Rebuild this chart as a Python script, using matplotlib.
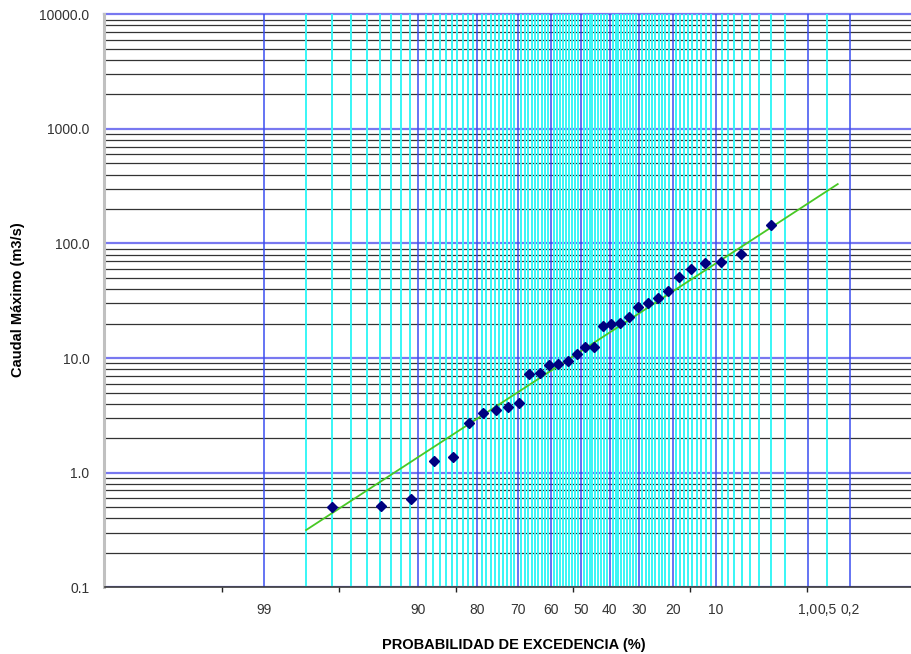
"""Curva de frecuencia de caudales máximos sobre papel de probabilidad log-Pearson III.

El eje X es lineal en el factor de frecuencia K (Wilson-Hilferty, asimetría CS) y
se rotula con la probabilidad de excedencia; el eje Y es logarítmico.
"""
from statistics import NormalDist

import matplotlib
matplotlib.use("Agg")
import matplotlib.pyplot as plt  # noqa: E402
import numpy as np  # noqa: E402

plt.rcParams["font.family"] = "Liberation Sans"

# caudales máximos anuales (m3/s), de mayor a menor, y su probabilidad de excedencia (%)
prob_exc = [3.0, 6.1, 9.1, 12.1, 15.2, 18.2, 21.2, 24.2, 27.3, 30.3, 33.3,
            36.4, 39.4, 42.4, 45.5, 48.5, 51.5, 54.5, 57.6, 60.6, 63.6, 66.7,
            69.7, 72.7, 75.8, 78.8, 81.8, 84.8, 87.9, 90.9, 93.9, 97.0]
caudal = [146.0, 80.9, 69.4, 67.2, 59.6, 51.0, 38.3, 33.6, 30.4, 27.8, 22.7,
          20.4, 19.85, 19.2, 12.5, 12.4, 10.9, 9.43, 8.94, 8.66, 7.46, 7.23,
          4.02, 3.72, 3.55, 3.34, 2.71, 1.36, 1.26, 0.59, 0.51, 0.50]

# recta de ajuste (extremos)
fit_prob = [98.0, 0.333]
fit_caudal = [0.316, 330.0]

# reticula del papel
prob_main = [99, 90, 80, 70, 60, 50, 40, 30, 20, 10, 1, 0.2]
prob_sec = [p for p in range(2, 99) if p % 10] + [0.5]
tick_prob = [99, 90, 80, 70, 60, 50, 40, 30, 20, 10, 1, 0.5, 0.2]
tick_text = ["99", "90", "80", "70", "60", "50", "40", "30", "20", "10",
             "1,0", "0,5", "0,2"]
y_ticks = [0.1, 1, 10, 100, 1000, 10000]
y_text = ["0.1", "1.0", "10.0", "100.0", "1000.0", "10000.0"]
y_minor = [m * 10.0 ** e for e in range(-1, 4) for m in range(2, 10)]

CS = -0.43          # asimetria usada para el papel
K_MIN, K_MAX = -4, 3

_nd = NormalDist()
_inv = np.vectorize(_nd.inv_cdf, otypes=[float])
_cdf = np.vectorize(_nd.cdf, otypes=[float])
_k = CS / 6


def p_to_k(p):
    """probabilidad de excedencia (%) -> factor de frecuencia K"""
    p = np.clip(np.asarray(p, dtype=float), 1e-9, 100 - 1e-9)
    z = _inv(1 - p / 100)
    return 2 / CS * ((1 + _k * z - _k ** 2) ** 3 - 1)


def k_to_p(kf):
    kf = np.asarray(kf, dtype=float)
    z = (np.cbrt(kf * CS / 2 + 1) - 1 + _k ** 2) / _k
    return 100 * (1 - _cdf(z))


fig = plt.figure(figsize=(9.12, 6.54), dpi=100)
ax = fig.add_axes([104.5 / 912, 1 - 587.3 / 654, 819.1 / 912, 573.0 / 654])

ax.set_yscale("log")
ax.set_xscale("function", functions=(p_to_k, k_to_p))

ax.vlines(prob_sec, 0.1, 10000, color="#38f6f6", lw=1.4, zorder=1.5)
ax.vlines(prob_main, 0.1, 10000, color="#3a4ef0", lw=1.1, zorder=1.6)
ax.plot(fit_prob, fit_caudal, color="#48c824", lw=1.3, zorder=3)
ax.plot(prob_exc, caudal, ls="none", marker="D", ms=4.8, color="#000080", zorder=4)

# K crece al bajar la probabilidad: limites en orden ascendente de p
ax.set_ylim(0.1, 10000)
ax.set_xlim(float(k_to_p(K_MAX)), float(k_to_p(K_MIN)))

ax.set_yticks(y_ticks, y_text)
ax.set_yticks(y_minor, minor=True)
ax.yaxis.set_minor_formatter(plt.NullFormatter())
ax.set_xticks(tick_prob, tick_text)
ax.set_xticks([float(k_to_p(v)) for v in range(-3, 3)], minor=True)
ax.xaxis.set_minor_formatter(plt.NullFormatter())

ax.set_axisbelow(True)
ax.grid(axis="y", which="major", color="#7878f0", lw=1.6)
ax.grid(axis="y", which="minor", color="#333333", lw=0.9)
ax.get_ygridlines()[-1].set_clip_on(False)   # linea de 10000 en el borde superior

ax.tick_params(axis="x", which="major", length=0, pad=11, labelsize=10, labelcolor="#333333")
ax.tick_params(axis="x", which="minor", length=3.5, width=1.0, color="#222222", direction="out")
ax.tick_params(axis="y", which="both", length=0)
ax.tick_params(axis="y", which="major", pad=10.8, labelsize=10, labelcolor="#333333")

for side in ("top", "right"):
    ax.spines[side].set_visible(False)
ax.spines["left"].set_color("#c0c0c0")
ax.spines["left"].set_linewidth(2.2)
ax.spines["bottom"].set_color("#3a3a3a")
ax.spines["bottom"].set_linewidth(1.2)

fig.text(18 / 912, 1 - 300 / 654, "Caudal Máximo (m3/s)", rotation=90,
         ha="center", va="center", fontsize=10.5, fontweight="bold")
fig.text(514 / 912, 1 - 645 / 654, "PROBABILIDAD DE EXCEDENCIA (%)",
         ha="center", va="center", fontsize=10.5, fontweight="bold")

fig.savefig("out.png", dpi=100)
